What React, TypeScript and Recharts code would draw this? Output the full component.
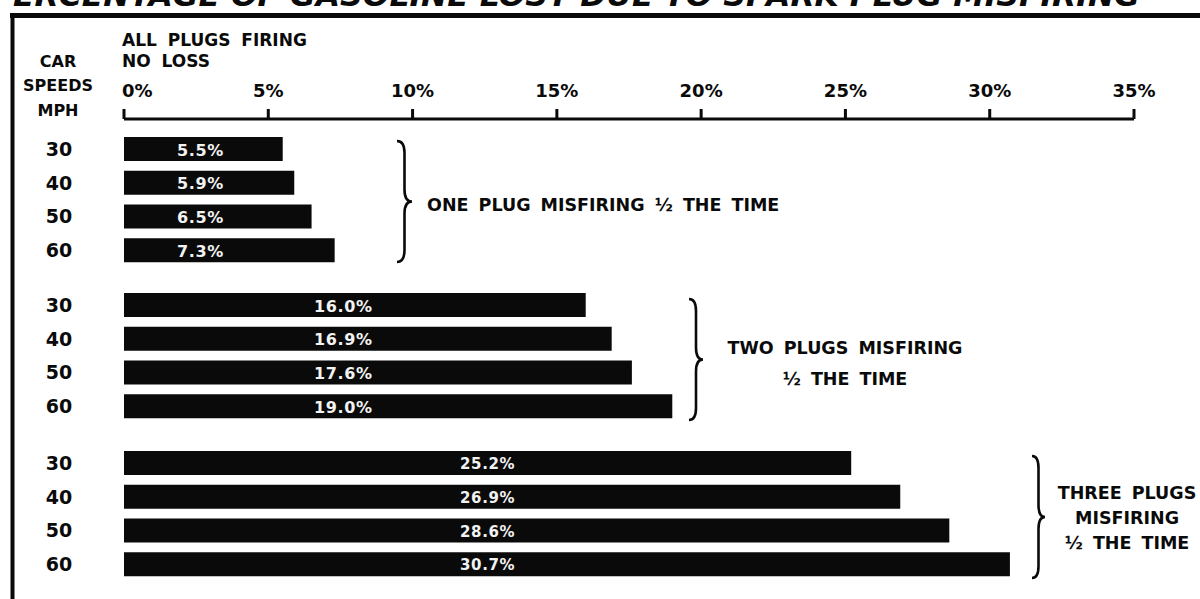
import React from 'react';
import { BarChart, Bar, XAxis, YAxis, LabelList } from 'recharts';

// ---------- data ----------
const speeds = ['30', '40', '50', '60'];
const onePlugLoss = [5.5, 5.9, 6.5, 7.3];
const twoPlugsLoss = [16.0, 16.9, 17.6, 19.0];
const threePlugsLoss = [25.2, 26.9, 28.6, 30.7];
const percentTicks = [0, 5, 10, 15, 20, 25, 30, 35];
const groupNotes = [
  ['ONE PLUG MISFIRING ½ THE TIME'],
  ['TWO PLUGS MISFIRING', '½ THE TIME'],
  ['THREE PLUGS', 'MISFIRING', '½ THE TIME'],
];
const titleText = 'PERCENTAGE OF GASOLINE LOST DUE TO SPARK PLUG MISFIRING';

const toRows = (vals: number[]) => speeds.map((s, i) => ({ speed: s, value: vals[i] }));

// ---------- styling ----------
const FONT = '"DejaVu Sans", Verdana, sans-serif';
const INK = '#0a0a0a';
const W = 1200;
const H = 599;
const CHART_MARGIN_RIGHT = 66;
const Y_AXIS_W = 124;

const RowTick = (props: any) => {
  const { x, y, payload } = props;
  return (
    <text x={x - 65} y={y} textAnchor="middle" dominantBaseline="central"
      fontFamily={FONT} fontWeight={700} fontSize={19} fill={INK}>
      {payload.value}
    </text>
  );
};

const PctTick = (props: any) => {
  const { x, y, payload } = props;
  const first = payload.value === 0;
  return (
    <text x={first ? x - 2 : x} y={y} textAnchor={first ? 'start' : 'middle'}
      fontFamily={FONT} fontWeight={700} fontSize={18} fill={INK}>
      {payload.value}%
    </text>
  );
};

const makeLabel = (labelAt: number, fs: number) => (p: any) => {
  const { x, y, width, height, value } = p;
  const v = Number(value);
  const ppu = width / v;
  return (
    <text x={x + ppu * labelAt} y={y + height / 2 + 1} textAnchor="middle" dominantBaseline="central"
      fontFamily={FONT} fontWeight={600} fontSize={fs} fill="#f2f2f2" letterSpacing={0.6}>
      {v.toFixed(1)}%
    </text>
  );
};

interface GroupProps {
  rows: { speed: string; value: number }[];
  top: number;
  height: number;
  mTop: number;
  mBottom: number;
  showAxis: boolean;
  padTop: number;
  labelAt: number;
  labelSize: number;
}

const GroupChart = ({ rows, top, height, mTop, mBottom, showAxis, padTop, labelAt, labelSize }: GroupProps) => (
  <div style={{ position: 'absolute', left: 0, top, width: W, height }}>
    <BarChart width={W} height={height} data={rows} layout="vertical"
      margin={{ top: mTop, right: CHART_MARGIN_RIGHT, bottom: mBottom, left: 0 }}>
      <XAxis type="number" domain={[0, 35]} ticks={percentTicks} orientation="top"
        hide={!showAxis} height={40} interval={0} allowDataOverflow
        axisLine={{ stroke: INK, strokeWidth: 3 }}
        tickLine={{ stroke: INK, strokeWidth: 3 }} tickSize={10} tickMargin={12}
        tick={<PctTick />} />
      <YAxis type="category" dataKey="speed" width={Y_AXIS_W} axisLine={false} tickLine={false}
        tickSize={0} tickMargin={0} tick={<RowTick />} padding={{ top: padTop, bottom: 0 }} />
      <Bar dataKey="value" fill={INK} barSize={24} isAnimationActive={false}>
        <LabelList dataKey="value" content={makeLabel(labelAt, labelSize)} />
      </Bar>
    </BarChart>
  </div>
);

const bracePath = (x0: number, y1: number, y2: number, w: number) => {
  const mid = (y1 + y2) / 2;
  const xm = x0 + w * 0.5;
  const q = 12;
  return `M ${x0} ${y1} Q ${xm} ${y1} ${xm} ${y1 + q} L ${xm} ${mid - q} Q ${xm} ${mid} ${x0 + w} ${mid} ` +
    `Q ${xm} ${mid} ${xm} ${mid + q} L ${xm} ${y2 - q} Q ${xm} ${y2} ${x0} ${y2}`;
};

const braces = [
  { x: 397, y1: 141, y2: 262, w: 15 },
  { x: 689, y1: 299, y2: 420, w: 14 },
  { x: 1032, y1: 456, y2: 578, w: 13 },
];
const notePos = [
  { x: 427, y: 205, anchor: 'start', gap: 0 },
  { x: 845, y: 348, anchor: 'middle', gap: 31 },
  { x: 1127, y: 493, anchor: 'middle', gap: 25 },
];

const Overlay = () => (
  <svg width={W} height={H} style={{ position: 'absolute', left: 0, top: 0, pointerEvents: 'none' }}>
    <text x={-10} y={6} fontFamily={FONT} fontWeight={700} fontStyle="italic" fontSize={30}
      fill={INK} textLength={1150} lengthAdjust="spacingAndGlyphs">{titleText}</text>
    <rect x={10} y={13} width={W - 10} height={5} fill={INK} />
    <rect x={10.5} y={13} width={4} height={H - 13} fill={INK} />
    {['CAR', 'SPEEDS', 'MPH'].map((t, i) => (
      <text key={t} x={58} y={61 + i * 24.5} textAnchor="middle" dominantBaseline="central"
        fontFamily={FONT} fontWeight={700} fontSize={16} fill={INK}>{t}</text>
    ))}
    {['ALL PLUGS FIRING', 'NO LOSS'].map((t, i) => (
      <text key={t} x={122} y={40 + i * 20.5} dominantBaseline="central" wordSpacing={5}
        fontFamily={FONT} fontWeight={700} fontSize={17} fill={INK}>{t}</text>
    ))}
    {braces.map((b, i) => (
      <path key={i} d={bracePath(b.x, b.y1, b.y2, b.w)} fill="none" stroke={INK} strokeWidth={2.6} />
    ))}
    {groupNotes.map((lines, gi) =>
      lines.map((t, li) => (
        <text key={`${gi}-${li}`} x={notePos[gi].x} y={notePos[gi].y + li * notePos[gi].gap}
          textAnchor={notePos[gi].anchor as any} dominantBaseline="central" wordSpacing={4}
          fontFamily={FONT} fontWeight={700} fontSize={17.5} fill={INK}>{t}</text>
      ))
    )}
  </svg>
);

export default function App() {
  return (
    <div style={{ position: 'absolute', left: 0, top: 0, width: W, height: H, overflow: 'hidden', background: '#fff' }}>
      <GroupChart rows={toRows(onePlugLoss)} top={0} height={270} mTop={79} mBottom={3}
        showAxis padTop={13} labelAt={2.65} labelSize={16} />
      <GroupChart rows={toRows(twoPlugsLoss)} top={280} height={150} mTop={8} mBottom={7}
        showAxis={false} padTop={0} labelAt={7.6} labelSize={16} />
      <GroupChart rows={toRows(threePlugsLoss)} top={440} height={150} mTop={6} mBottom={9}
        showAxis={false} padTop={0} labelAt={12.6} labelSize={15} />
      <Overlay />
    </div>
  );
}
